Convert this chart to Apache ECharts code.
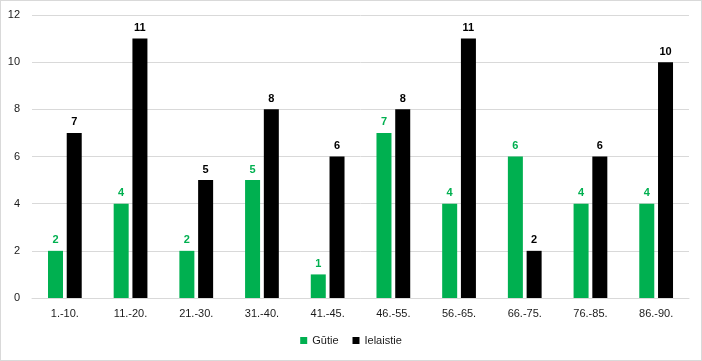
<!DOCTYPE html>
<html><head><meta charset="utf-8">
<script src="https://cdn.jsdelivr.net/npm/echarts@6/dist/echarts.min.js"></script>
<style>html,body{margin:0;padding:0;background:#fff}#c{width:702px;height:361px;box-sizing:border-box;border:1px solid #d9d9d9}</style>
</head><body><div id="c"></div>
<script>
var categories = ['1.-10.', '11.-20.', '21.-30.', '31.-40.', '41.-45.', '46.-55.', '56.-65.', '66.-75.', '76.-85.', '86.-90.'];
var gutie = [2, 4, 2, 5, 1, 7, 4, 6, 4, 4];
var ielaistie = [7, 11, 5, 8, 6, 8, 11, 2, 6, 10];
var seriesNames = ['Gūtie', 'Ielaistie'];
var chart = echarts.init(document.getElementById('c'), null, {renderer: 'canvas'});
chart.setOption({
  animation: false,
  textStyle: {fontFamily: 'Liberation Sans, Arial, sans-serif'},
  grid: {left: 31, right: 12, top: 14, bottom: 62},
  legend: {
    bottom: 9, left: 'center', itemWidth: 7, itemHeight: 7, itemGap: 14, icon: 'rect',
    textStyle: {fontSize: 11, color: '#1a1a1a', fontFamily: 'Liberation Sans, Arial, sans-serif'},
    data: seriesNames
  },
  xAxis: {
    type: 'category', data: categories,
    axisLine: {lineStyle: {color: '#d9d9d9'}}, axisTick: {show: false},
    axisLabel: {fontSize: 11, color: '#1a1a1a', margin: 10}
  },
  yAxis: {
    type: 'value', min: 0, max: 12, interval: 2,
    axisLine: {show: false}, axisTick: {show: false},
    axisLabel: {fontSize: 11, color: '#1a1a1a', margin: 12},
    splitLine: {lineStyle: {color: '#d9d9d9'}}
  },
  series: [
    {name: seriesNames[0], type: 'bar', data: gutie, barWidth: 15, barGap: '25%',
     itemStyle: {color: '#00b050'},
     label: {show: true, position: 'top', color: '#00b050', fontWeight: 'bold', fontSize: 11, distance: 5}},
    {name: seriesNames[1], type: 'bar', data: ielaistie, barWidth: 15,
     itemStyle: {color: '#000000'},
     label: {show: true, position: 'top', color: '#000000', fontWeight: 'bold', fontSize: 11, distance: 5}}
  ]
});
</script></body></html>
